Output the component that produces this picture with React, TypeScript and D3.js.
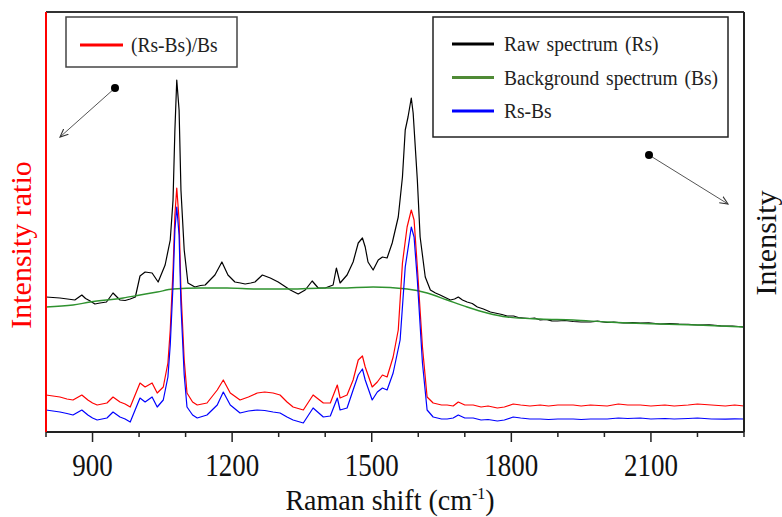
import React from "react";
import * as d3 from "d3";

// ---------- data ----------
const xTicksMajor = [900, 1200, 1500, 1800, 2100];
const xTicksMinor = [800, 1000, 1100, 1300, 1400, 1600, 1700, 1900, 2000, 2200, 2300];

const rawShift = [800, 815, 830, 846, 862, 877, 885, 895, 905, 916, 930, 944, 959, 970, 981, 992, 1002, 1013, 1028, 1041, 1056, 1067, 1073, 1077, 1081, 1086, 1090, 1097, 1105, 1120, 1132, 1142, 1163, 1178, 1191, 1206, 1218, 1228, 1240, 1249, 1265, 1282, 1299, 1312, 1325, 1342, 1357, 1372, 1385, 1400, 1417, 1424, 1432, 1447, 1460, 1471, 1480, 1486, 1492, 1503, 1514, 1523, 1533, 1544, 1557, 1566, 1572, 1578, 1585, 1589, 1598, 1604, 1615, 1626, 1637, 1647, 1658, 1669, 1678, 1686, 1695, 1705, 1716, 1727, 1740, 1755, 1770, 1780, 1791, 1805, 1815, 1826, 1840, 1850, 1862, 1875, 1887, 1899, 1915, 1933, 1950, 1970, 1985, 2006, 2020, 2041, 2060, 2077, 2095, 2120, 2140, 2160, 2180, 2200, 2225, 2250, 2275, 2300];
const rawIntensity = [1350, 1345, 1340, 1330, 1320, 1370, 1335, 1310, 1280, 1290, 1300, 1390, 1320, 1315, 1330, 1350, 1560, 1600, 1590, 1500, 1670, 1920, 2320, 3020, 3520, 3220, 2420, 1820, 1490, 1450, 1465, 1470, 1570, 1700, 1570, 1500, 1490, 1480, 1490, 1500, 1570, 1540, 1500, 1460, 1420, 1380, 1420, 1510, 1440, 1440, 1470, 1640, 1490, 1570, 1700, 1890, 1940, 1850, 1700, 1620, 1720, 1750, 1740, 1890, 2150, 2550, 3020, 3150, 3340, 3190, 2520, 1950, 1550, 1420, 1390, 1370, 1345, 1320, 1330, 1350, 1320, 1300, 1285, 1250, 1230, 1200, 1185, 1175, 1160, 1160, 1145, 1140, 1135, 1140, 1120, 1125, 1112, 1110, 1115, 1105, 1100, 1100, 1108, 1095, 1098, 1090, 1093, 1088, 1092, 1080, 1084, 1078, 1076, 1070, 1072, 1062, 1060, 1050];

const bgShift = [800, 858, 895, 966, 1002, 1039, 1073, 1131, 1189, 1254, 1325, 1400, 1432, 1503, 1576, 1619, 1662, 1705, 1748, 1791, 1862, 1933, 2006, 2120, 2200, 2300];
const bgIntensity = [1250, 1270, 1300, 1340, 1370, 1400, 1430, 1440, 1440, 1430, 1430, 1440, 1440, 1450, 1430, 1390, 1320, 1250, 1190, 1150, 1130, 1120, 1100, 1080, 1070, 1050];

const ratioShift = [800, 815, 830, 845, 858, 877, 890, 900, 910, 931, 944, 959, 970, 981, 1002, 1013, 1028, 1039, 1052, 1062, 1067, 1073, 1077, 1081, 1086, 1090, 1097, 1103, 1115, 1125, 1146, 1168, 1181, 1196, 1217, 1235, 1254, 1270, 1288, 1303, 1318, 1331, 1353, 1374, 1396, 1411, 1426, 1432, 1447, 1460, 1471, 1480, 1486, 1501, 1512, 1523, 1533, 1546, 1557, 1566, 1576, 1585, 1591, 1598, 1609, 1619, 1632, 1650, 1662, 1675, 1686, 1700, 1718, 1735, 1750, 1770, 1785, 1804, 1820, 1840, 1862, 1880, 1900, 1933, 1950, 1970, 2006, 2030, 2050, 2077, 2100, 2130, 2150, 2180, 2200, 2230, 2260, 2280, 2300];
const ratioValue = [0.37, 0.36, 0.35, 0.33, 0.32, 0.37, 0.32, 0.29, 0.27, 0.29, 0.35, 0.30, 0.28, 0.25, 0.49, 0.45, 0.49, 0.39, 0.45, 0.69, 1.02, 1.62, 2.17, 2.44, 2.12, 1.42, 0.72, 0.39, 0.30, 0.27, 0.29, 0.42, 0.52, 0.39, 0.32, 0.35, 0.39, 0.40, 0.39, 0.37, 0.30, 0.25, 0.22, 0.37, 0.29, 0.29, 0.47, 0.34, 0.37, 0.52, 0.72, 0.76, 0.65, 0.45, 0.50, 0.57, 0.55, 0.75, 1.02, 1.69, 2.05, 2.22, 2.12, 1.65, 0.85, 0.35, 0.29, 0.27, 0.27, 0.26, 0.30, 0.27, 0.27, 0.25, 0.26, 0.24, 0.25, 0.28, 0.27, 0.26, 0.27, 0.26, 0.27, 0.27, 0.26, 0.27, 0.26, 0.28, 0.27, 0.27, 0.26, 0.27, 0.26, 0.27, 0.28, 0.27, 0.26, 0.27, 0.26];

const diffShift = [800, 815, 830, 845, 858, 877, 890, 900, 910, 931, 944, 959, 970, 981, 1002, 1013, 1028, 1039, 1052, 1062, 1067, 1073, 1077, 1081, 1086, 1090, 1097, 1103, 1115, 1125, 1146, 1168, 1181, 1196, 1217, 1235, 1254, 1270, 1288, 1303, 1318, 1331, 1353, 1374, 1396, 1411, 1426, 1432, 1447, 1460, 1471, 1480, 1486, 1501, 1512, 1523, 1533, 1546, 1561, 1572, 1585, 1591, 1598, 1609, 1619, 1632, 1650, 1662, 1675, 1686, 1700, 1718, 1735, 1750, 1770, 1785, 1804, 1820, 1840, 1862, 1880, 1900, 1933, 1950, 1970, 2006, 2030, 2050, 2077, 2100, 2130, 2150, 2180, 2200, 2230, 2260, 2280, 2300];
const diffIntensity = [220, 210, 200, 185, 170, 220, 170, 140, 120, 140, 200, 150, 130, 100, 340, 300, 350, 250, 320, 550, 870, 1470, 2020, 2250, 1970, 1270, 570, 250, 170, 140, 170, 270, 400, 270, 190, 210, 220, 215, 200, 190, 150, 120, 90, 240, 150, 160, 340, 220, 240, 420, 570, 630, 520, 320, 400, 440, 420, 590, 920, 1650, 2050, 1950, 1520, 690, 220, 150, 130, 130, 140, 170, 140, 140, 120, 125, 110, 120, 150, 140, 130, 130, 125, 130, 130, 125, 130, 130, 140, 135, 140, 130, 135, 130, 135, 140, 130, 128, 132, 130];

const legendLeft = [{ label: "(Rs-Bs)/Bs", color: "#ff0000" }];
const legendRight = [
  { label: "Raw spectrum (Rs)", color: "#000000" },
  { label: "Background spectrum (Bs)", color: "#4f8a35" },
  { label: "Rs-Bs", color: "#0000ff" },
];

// ---------- layout ----------
const W = 782;
const H = 517;
const L = 46, R = 744, T = 12, B = 432;
const FONT = "'Liberation Serif', 'Times New Roman', serif";

export default function App() {
  const x = d3.scaleLinear().domain([800, 2300]).range([L, R]);
  const yInt = d3.scaleLinear().domain([0, 4200]).range([B, T]);
  const yRatio = d3.scaleLinear().domain([0, 4.2]).range([B, T]);

  const mk = (xs: number[], ys: number[], ys2: d3.ScaleLinear<number, number>) =>
    d3.line<number>().x((_, i) => x(xs[i])).y((v) => ys2(v)).curve(d3.curveLinear)(ys) || "";

  const bgPath = d3.line<number>().x((_, i) => x(bgShift[i])).y((v) => yInt(v)).curve(d3.curveMonotoneX)(bgIntensity) || "";
  const rawPath = mk(rawShift, rawIntensity, yInt);
  const ratioPath = mk(ratioShift, ratioValue, yRatio);
  const diffPath = mk(diffShift, diffIntensity, yInt);

  const arrows = [
    { x1: 115, y1: 88, x2: 60, y2: 137 },
    { x1: 649, y1: 155, x2: 728, y2: 204 },
  ];

  return (
    <svg width={W} height={H} style={{ position: "absolute", left: 0, top: 0, background: "#fff" }}>
      <defs>
        <marker id="arr" viewBox="0 0 10 10" refX="9" refY="5" markerWidth="9" markerHeight="9" orient="auto">
          <path d="M0,1 L9,5 L0,9" fill="none" stroke="#333" strokeWidth="1.2" />
        </marker>
      </defs>
      <rect x={0} y={0} width={W} height={H} fill="#fff" />

      {/* curves */}
      <path d={rawPath} fill="none" stroke="#000" strokeWidth={1.2} strokeLinejoin="round" />
      <path d={bgPath} fill="none" stroke="#2f922f" strokeWidth={1.4} />
      <path d={ratioPath} fill="none" stroke="#ff0000" strokeWidth={1.2} strokeLinejoin="round" />
      <path d={diffPath} fill="none" stroke="#0000ff" strokeWidth={1.2} strokeLinejoin="round" />

      {/* frame */}
      <line x1={L} x2={R} y1={T} y2={T} stroke="#333" strokeWidth={2} />
      <line x1={R} x2={R} y1={T} y2={B} stroke="#222" strokeWidth={2} />
      <line x1={L} x2={R} y1={B} y2={B} stroke="#222" strokeWidth={2} />
      <line x1={L} x2={L} y1={T} y2={B} stroke="#ff0000" strokeWidth={2} />

      {/* ticks */}
      {xTicksMajor.map((t) => (
        <line key={"M" + t} x1={x(t)} x2={x(t)} y1={B} y2={B + 10} stroke="#222" strokeWidth={1.5} />
      ))}
      {xTicksMinor.map((t) => (
        <line key={"m" + t} x1={x(t)} x2={x(t)} y1={B} y2={B + 5} stroke="#222" strokeWidth={1.5} />
      ))}
      {xTicksMajor.map((t) => (
        <text key={"t" + t} transform={`translate(${x(t)},476) scale(1,1.2)`} textAnchor="middle" fontFamily={FONT} fontSize={27} fill="#111">
          {t}
        </text>
      ))}

      {/* axis titles */}
      <text transform="translate(390,510) scale(1,1.08)" textAnchor="middle" fontFamily={FONT} fontSize={28} fill="#111">
        Raman shift (cm<tspan dy={-10} fontSize={16}>-1</tspan><tspan dy={10}>)</tspan>
      </text>
      <text transform="translate(31,245) rotate(-90)" textAnchor="middle" fontFamily={FONT} fontSize={30} fill="#ff0000">
        Intensity ratio
      </text>
      <text transform="translate(776,243) rotate(-90)" textAnchor="middle" fontFamily={FONT} fontSize={30} fill="#111">
        Intensity
      </text>

      {/* legends */}
      <rect x={66} y={17} width={171} height={50} fill="#fff" stroke="#444" strokeWidth={1.5} />
      {legendLeft.map((d, i) => (
        <g key={d.label}>
          <line x1={80} x2={123} y1={45 + i * 34} y2={45 + i * 34} stroke={d.color} strokeWidth={3} />
          <text transform={`translate(131,${52 + i * 34}) scale(1,1.08)`} fontFamily={FONT} fontSize={19.5} fill="#222">{d.label}</text>
        </g>
      ))}
      <rect x={433} y={17} width={295} height={120} fill="#fff" stroke="#222" strokeWidth={1.5} />
      {legendRight.map((d, i) => (
        <g key={d.label}>
          <line x1={452} x2={494} y1={44 + i * 33.5} y2={44 + i * 33.5} stroke={d.color} strokeWidth={3} />
          <text transform={`translate(504,${51 + i * 33.5}) scale(1,1.08)`} fontFamily={FONT} fontSize={19.5} fill="#222" wordSpacing={2}>{d.label}</text>
        </g>
      ))}

      {/* arrows */}
      {arrows.map((a, i) => (
        <g key={i}>
          <line x1={a.x1} y1={a.y1} x2={a.x2} y2={a.y2} stroke="#555" strokeWidth={1} markerEnd="url(#arr)" />
          <circle cx={a.x1} cy={a.y1} r={4} fill="#000" />
        </g>
      ))}
    </svg>
  );
}
